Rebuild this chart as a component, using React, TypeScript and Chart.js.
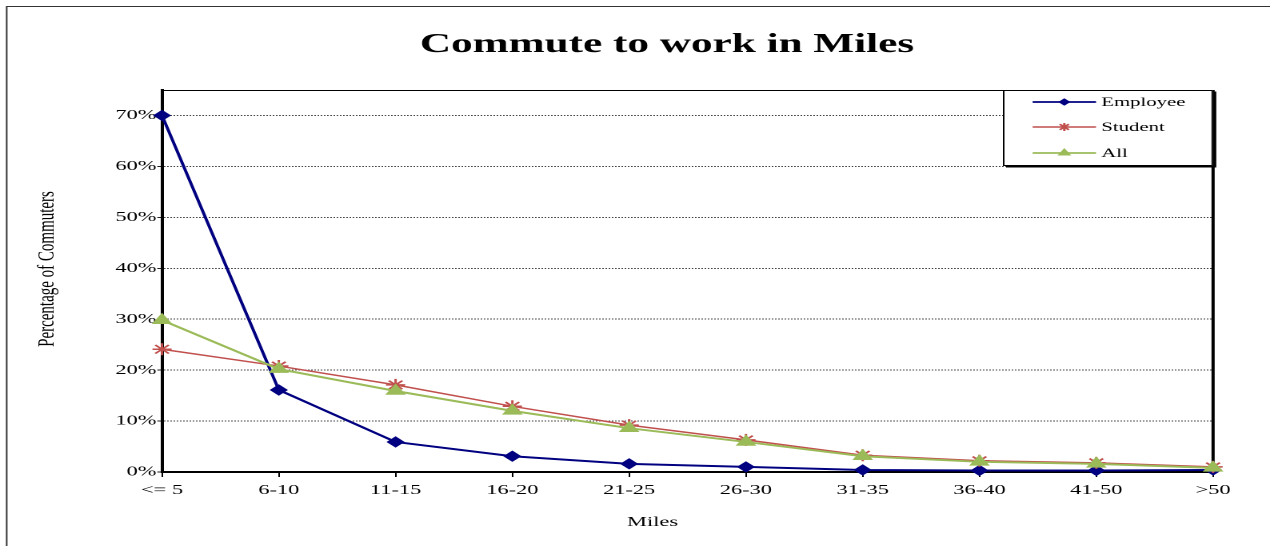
import React, { useEffect, useRef } from "react";
import { Chart, registerables } from "chart.js";

Chart.register(...registerables);

// ---- data ----
const categories = ["<= 5", "6-10", "11-15", "16-20", "21-25", "26-30", "31-35", "36-40", "41-50", ">50"];
const employee = [70.0, 16.1, 5.9, 3.1, 1.6, 1.0, 0.4, 0.3, 0.3, 0.4];
const student = [24.1, 20.8, 17.1, 12.9, 9.2, 6.3, 3.3, 2.2, 1.8, 1.0];
const all = [29.8, 20.2, 15.9, 12.0, 8.6, 5.9, 3.1, 2.0, 1.6, 0.8];
const yTicks = [0, 10, 20, 30, 40, 50, 60, 70];
const seriesNames = ["Employee", "Student", "All"];
const seriesColors = ["#000080", "#C0504D", "#9BBB59"];

const titleText = "Commute to work in Miles";
const xTitle = "Miles";
const yTitle = "Percentage of Commuters";

// ---- layout (inner, before horizontal stretch) ----
const W = 794;
const H = 546;
const SX = 1270 / W;
const SERIF = '"Liberation Serif", "Times New Roman", serif';

function diamond(ctx: CanvasRenderingContext2D, x: number, y: number, r: number) {
  ctx.beginPath();
  ctx.moveTo(x, y - r);
  ctx.lineTo(x + r, y);
  ctx.lineTo(x, y + r);
  ctx.lineTo(x - r, y);
  ctx.closePath();
  ctx.fill();
}
function star(ctx: CanvasRenderingContext2D, x: number, y: number, r: number) {
  ctx.beginPath();
  ctx.moveTo(x, y - r); ctx.lineTo(x, y + r);
  const d = r * Math.SQRT1_2;
  ctx.moveTo(x - d, y - d); ctx.lineTo(x + d, y + d);
  ctx.moveTo(x - d, y + d); ctx.lineTo(x + d, y - d);
  ctx.stroke();
}
function triangle(ctx: CanvasRenderingContext2D, x: number, y: number, r: number) {
  const s = r * Math.sin(Math.PI / 3);
  ctx.beginPath();
  ctx.moveTo(x, y - r);
  ctx.lineTo(x + s, y + r / 2);
  ctx.lineTo(x - s, y + r / 2);
  ctx.closePath();
  ctx.fill();
}

const deco = {
  id: "deco",
  beforeDatasetsDraw(chart: any) {
    const { ctx, chartArea: a } = chart;
    ctx.save();
    ctx.strokeStyle = "#000";
    ctx.lineWidth = 1;
    ctx.beginPath();
    ctx.moveTo(a.left, a.top + 0.5);
    ctx.lineTo(a.right, a.top + 0.5);
    ctx.stroke();
    ctx.lineWidth = 2;
    ctx.beginPath();
    ctx.moveTo(a.right, a.top);
    ctx.lineTo(a.right, a.bottom);
    ctx.stroke();
    ctx.restore();
  },
  afterDraw(chart: any) {
    const { ctx } = chart;
    ctx.save();
    // outer frame
    ctx.strokeStyle = "#333";
    ctx.lineWidth = 1;
    ctx.strokeRect(4.2, 6.5, W + 20, H + 20);

    ctx.fillStyle = "#000";
    // title
    ctx.font = `bold 27px ${SERIF}`;
    ctx.textAlign = "center";
    ctx.textBaseline = "alphabetic";
    ctx.fillText(titleText, 417, 52);

    // x title
    ctx.font = `14px ${SERIF}`;
    ctx.fillText(xTitle, 408, 526);

    // y title
    ctx.save();
    ctx.translate(29.4, 269);
    ctx.rotate(-Math.PI / 2);
    ctx.font = `15px ${SERIF}`;
    ctx.textBaseline = "middle";
    ctx.fillText(yTitle, 0, 0);
    ctx.restore();

    // legend
    const lx = 627, ly = 90, lw = 131.4, lh = 76;
    ctx.fillStyle = "#000";
    ctx.fillRect(lx + 2, ly + 1.5, lw, lh);
    ctx.fillStyle = "#fff";
    ctx.fillRect(lx, ly, lw, lh);
    ctx.strokeStyle = "#000";
    ctx.lineWidth = 1;
    ctx.strokeRect(lx + 0.5, ly + 0.5, lw - 1, lh - 1);

    const ys = [102, 127, 153];
    const widths = [1.8, 1.5, 1.8];
    ctx.font = `13px ${SERIF}`;
    ctx.textAlign = "left";
    ctx.textBaseline = "middle";
    for (let i = 0; i < 3; i++) {
      const y = ys[i];
      ctx.strokeStyle = seriesColors[i];
      ctx.fillStyle = seriesColors[i];
      ctx.lineWidth = widths[i];
      ctx.beginPath();
      ctx.moveTo(645.6, y);
      ctx.lineTo(685.2, y);
      ctx.stroke();
      if (i === 0) diamond(ctx, 665.4, y, 3.8);
      if (i === 1) { ctx.lineWidth = 1.5; star(ctx, 665.4, y, 4); }
      if (i === 2) triangle(ctx, 665.4, y, 5);
      ctx.fillStyle = "#000";
      ctx.fillText(seriesNames[i], 688.5, y + 0.5);
    }
    ctx.restore();
  },
};

export default function App() {
  const ref = useRef<HTMLCanvasElement>(null);

  useEffect(() => {
    const canvas = ref.current;
    if (!canvas) return;
    const chart = new Chart(canvas, {
      type: "line",
      data: {
        labels: categories,
        datasets: [
          {
            label: seriesNames[0],
            data: employee,
            borderColor: seriesColors[0],
            backgroundColor: seriesColors[0],
            borderWidth: 2,
            pointStyle: "rectRot",
            pointRadius: 5,
            pointBorderWidth: 1,
            tension: 0,
            order: 3,
            clip: false as any,
          },
          {
            label: seriesNames[1],
            data: student,
            borderColor: seriesColors[1],
            backgroundColor: seriesColors[1],
            borderWidth: 1.5,
            pointStyle: "star",
            pointRadius: 6,
            pointBorderWidth: 1.5,
            tension: 0,
            order: 2,
            clip: false as any,
          },
          {
            label: seriesNames[2],
            data: all,
            borderColor: seriesColors[2],
            backgroundColor: seriesColors[2],
            borderWidth: 2,
            pointStyle: "triangle",
            pointRadius: 6.5,
            pointBorderWidth: 1,
            tension: 0,
            order: 1,
            clip: false as any,
          },
        ],
      },
      options: {
        responsive: false,
        animation: false,
        devicePixelRatio: 2,
        layout: { padding: { left: 0, top: 90, right: W - 758.4, bottom: H - 472 - 50 } },
        plugins: {
          legend: { display: false },
          tooltip: { enabled: false },
          title: { display: false },
        },
        scales: {
          x: {
            type: "category",
            offset: false,
            grid: {
              display: true,
              drawOnChartArea: false,
              drawTicks: true,
              tickLength: 5,
              tickColor: "#000",
              tickWidth: 1,
            },
            border: { display: true, color: "#000", width: 2 },
            ticks: {
              color: "#000",
              font: { family: SERIF, size: 14 },
              padding: 5,
              maxRotation: 0,
              autoSkip: false,
            },
            afterFit: (s: any) => {
              s.height = 50;
            },
          },
          y: {
            type: "linear",
            min: 0,
            max: 75,
            afterBuildTicks: (s: any) => {
              s.ticks = yTicks.map((v) => ({ value: v }));
            },
            grid: {
              color: "#444",
              lineWidth: 1,
              drawTicks: true,
              tickLength: 3,
              tickColor: "#222",
            },
            border: { display: true, color: "#000", width: 2, dash: [1, 1] },
            ticks: {
              color: "#000",
              font: { family: SERIF, size: 14 },
              padding: 0.5,
              callback: (v: any) => `${v}%`,
            },
            afterFit: (s: any) => {
              s.width = 101.3;
            },
          },
        },
      },
      plugins: [deco],
    });
    return () => chart.destroy();
  }, []);

  return (
    <div
      style={{
        position: "fixed",
        left: 0,
        top: 0,
        width: 1270,
        height: 546,
        overflow: "hidden",
        background: "#fff",
      }}
    >
      <div style={{ width: W, height: H, transform: `scaleX(${SX})`, transformOrigin: "0 0" }}>
        <canvas ref={ref} width={W} height={H} />
      </div>
    </div>
  );
}
